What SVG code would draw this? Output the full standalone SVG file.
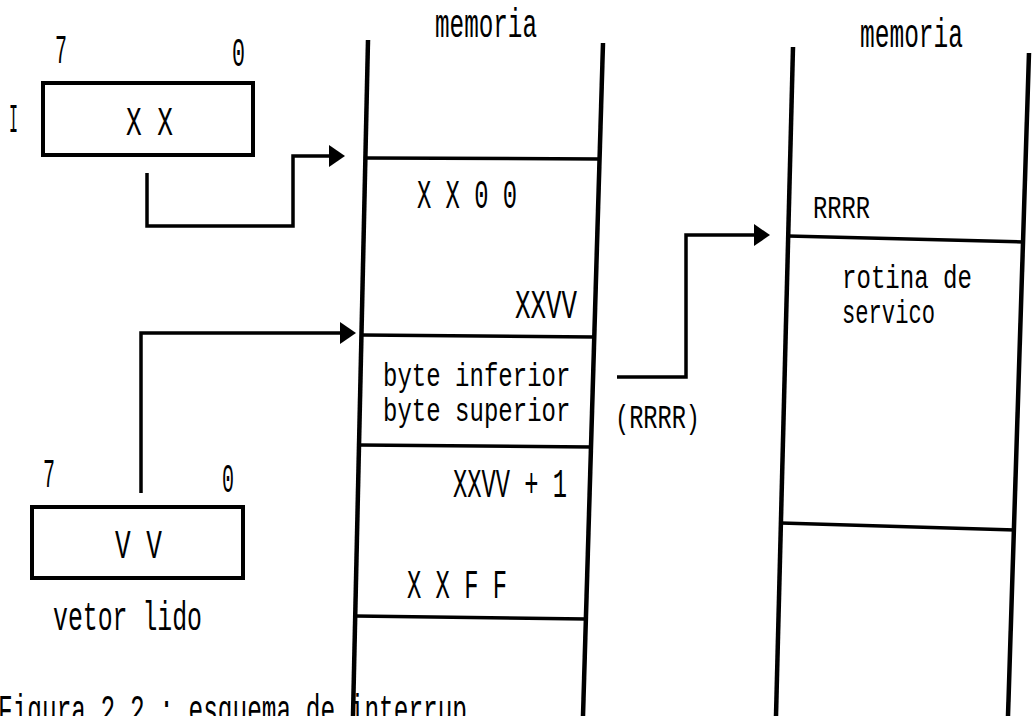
<svg xmlns="http://www.w3.org/2000/svg" width="1033" height="716" viewBox="0 0 1033 716">
<style>
  .t { font-family: "Liberation Mono", "DejaVu Sans Mono", monospace; font-size: 40px; fill: #000; }
  .s { font-size: 32px; }
  .m { font-size: 33px; }
  .box { fill: none; stroke: #000; stroke-width: 4; }
  .wall { stroke: #000; stroke-width: 4.5; fill: none; }
  .cell { stroke: #000; stroke-width: 3.5; fill: none; }
  .conn { stroke: #000; stroke-width: 3.5; fill: none; }
</style>
<defs>
  <marker id="ah" markerUnits="userSpaceOnUse" markerWidth="16" markerHeight="24" refX="8" refY="12" orient="auto">
    <path d="M0,1 L16,12 L0,23 Z" fill="#000"/>
  </marker>
</defs>
<rect width="1033" height="716" fill="#fff"/>

<g id="reg-I">
  <rect class="box" x="43" y="83" width="210" height="72"/>
  <text class="t" x="55" y="63" textLength="12" lengthAdjust="spacingAndGlyphs">7</text>
  <text class="t" x="232" y="66" textLength="13" lengthAdjust="spacingAndGlyphs">0</text>
  <text class="t" x="9" y="132" textLength="9" lengthAdjust="spacingAndGlyphs">I</text>
  <text class="t" x="126" y="135" textLength="47" lengthAdjust="spacingAndGlyphs">X X</text>
</g>

<g id="reg-vetor">
  <rect class="box" x="32" y="507" width="211" height="71"/>
  <text class="t" x="43" y="487" textLength="12" lengthAdjust="spacingAndGlyphs">7</text>
  <text class="t" x="222" y="492" textLength="12" lengthAdjust="spacingAndGlyphs">0</text>
  <text class="t" x="115" y="558" textLength="47" lengthAdjust="spacingAndGlyphs">V V</text>
  <text class="t" x="53" y="630" textLength="149" lengthAdjust="spacingAndGlyphs">vetor lido</text>
</g>

<g id="mem-vetores">
  <text class="t" x="435" y="37" textLength="102" lengthAdjust="spacingAndGlyphs">memoria</text>
  <line class="wall" x1="368" y1="40" x2="353" y2="716"/>
  <line class="wall" x1="603" y1="43" x2="583" y2="716"/>
  <line class="cell" x1="366" y1="158" x2="600" y2="159"/>
  <line class="cell" x1="362" y1="335" x2="594" y2="337"/>
  <line class="cell" x1="359" y1="445" x2="591" y2="447"/>
  <line class="cell" x1="355" y1="616" x2="586" y2="619"/>
  <text class="t" x="417" y="208" textLength="100" lengthAdjust="spacingAndGlyphs">X X 0 0</text>
  <text class="t" x="515" y="318" textLength="62" lengthAdjust="spacingAndGlyphs">XXVV</text>
  <text class="t m" transform="translate(383,386) scale(0.728,1)">byte inferior</text>
  <text class="t m" transform="translate(383,421) scale(0.728,1)">byte superior</text>
  <text class="t" x="453" y="497" textLength="114" lengthAdjust="spacingAndGlyphs">XXVV + 1</text>
  <text class="t" x="407" y="598" textLength="100" lengthAdjust="spacingAndGlyphs">X X F F</text>
</g>

<g id="rrrr-label">
  <text class="t m" transform="translate(615,428) scale(0.716,1)">(RRRR)</text>
</g>

<g id="mem-rotina">
  <text class="t" x="860" y="47" textLength="103" lengthAdjust="spacingAndGlyphs">memoria</text>
  <line class="wall" x1="793" y1="47" x2="776" y2="716"/>
  <line class="wall" x1="1029" y1="53" x2="1008" y2="716"/>
  <line class="cell" x1="788" y1="236" x2="1023" y2="242"/>
  <line class="cell" x1="781" y1="523" x2="1015" y2="530"/>
  <text class="t s" x="813" y="218" textLength="57" lengthAdjust="spacingAndGlyphs">RRRR</text>
  <text class="t m" x="842" y="288" textLength="130" lengthAdjust="spacingAndGlyphs">rotina de</text>
  <text class="t m" x="842" y="323" textLength="93" lengthAdjust="spacingAndGlyphs">servico</text>
</g>

<g id="connectors">
  <path class="conn" d="M147,173 V226 H293 V156 H337" marker-end="url(#ah)"/>
  <path class="conn" d="M141,493 V333 H348" marker-end="url(#ah)"/>
  <path class="conn" d="M617,377 H686 V235 H762" marker-end="url(#ah)"/>
</g>

<g id="caption">
  <text class="t" x="-2" y="723" textLength="469" lengthAdjust="spacingAndGlyphs">Figura 2.2 : esquema de interrup</text>
</g>
</svg>
